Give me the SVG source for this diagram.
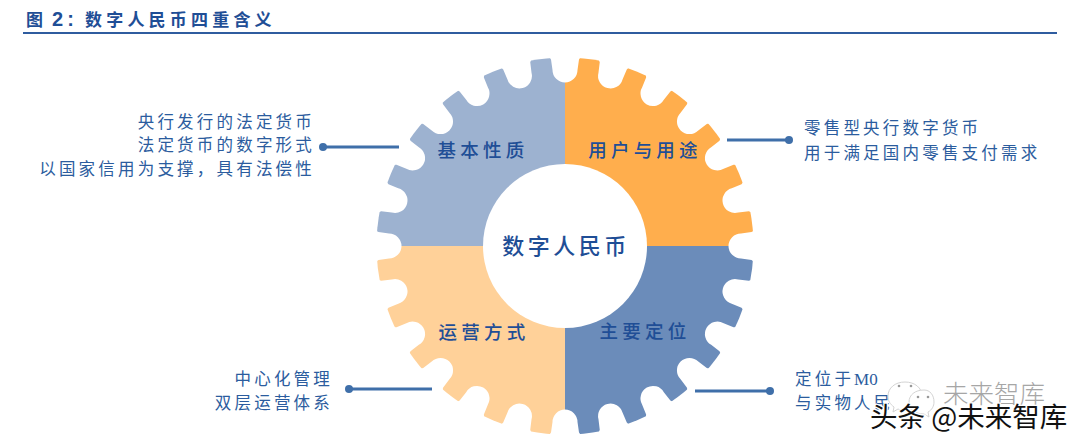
<svg xmlns="http://www.w3.org/2000/svg" width="1080" height="443" viewBox="0 0 1080 443">
<style>
text{font-family:"Noto Sans CJK SC","Noto Sans",sans-serif;fill:#2b5c9e}
.title{font-size:17px;font-weight:700;letter-spacing:4.2px;fill:#1f4e96}
.seg{font-size:18.500px;font-weight:500;letter-spacing:4.2px;fill:#1f4e96;text-anchor:middle}
.side{font-size:16.500px;letter-spacing:3.200px}
.end{text-anchor:end}
.lat{font-family:"Liberation Serif",serif;letter-spacing:0}
.conn{stroke:#3f6fa9;stroke-width:3;fill:none}
.dot{fill:#3f6fa9}
.wm{font-size:27.500px;fill:#111;stroke:#fff;stroke-width:2.500px;paint-order:stroke}
.wm2{font-size:25.500px;font-weight:300;fill:#a6a6a6}
.bub{fill:#fff;stroke:#d4d4d4;stroke-width:1}
</style>
<defs>
<path id="n" fill="#fff" d="M-18 -194H18V-189.400Q15 -189.200 14 -186.500L12.500 -176A12.500 12.500 0 1 1 -12.500 -176L-14 -186.500Q-15 -189.200 -18 -189.400Z"/>
</defs>
<rect width="1080" height="443" fill="#fff"/>
<text class="title" x="26" y="26">图<tspan x="52" style="font-family:'Liberation Sans',sans-serif" font-size="20">2:</tspan><tspan x="85">数字人民币四重含义</tspan></text>
<rect x="23" y="32" width="1034" height="2" fill="#2f5c9f"/>
<g id="q1"><path fill="#9db2d0" d="M565 246V57.500A188.500 188.500 0 0 0 376.500 246Z"/></g>
<g id="q2"><path fill="#ffae4d" d="M565 246V57.500A188.500 188.500 0 0 1 753.500 246Z"/></g>
<g id="q3"><path fill="#ffd199" d="M565 246V434.500A188.500 188.500 0 0 1 376.500 246Z"/></g>
<g id="q4"><path fill="#6b8cba" d="M565 246V434.500A188.500 188.500 0 0 0 753.500 246Z"/></g>
<g id="notches">
<use href="#n" transform="translate(565 246) rotate(0)"/>
<use href="#n" transform="translate(565 246) rotate(15)"/>
<use href="#n" transform="translate(565 246) rotate(30)"/>
<use href="#n" transform="translate(565 246) rotate(45)"/>
<use href="#n" transform="translate(565 246) rotate(60)"/>
<use href="#n" transform="translate(565 246) rotate(75)"/>
<use href="#n" transform="translate(565 246) rotate(90)"/>
<use href="#n" transform="translate(565 246) rotate(105)"/>
<use href="#n" transform="translate(565 246) rotate(120)"/>
<use href="#n" transform="translate(565 246) rotate(135)"/>
<use href="#n" transform="translate(565 246) rotate(150)"/>
<use href="#n" transform="translate(565 246) rotate(165)"/>
<use href="#n" transform="translate(565 246) rotate(180)"/>
<use href="#n" transform="translate(565 246) rotate(195)"/>
<use href="#n" transform="translate(565 246) rotate(210)"/>
<use href="#n" transform="translate(565 246) rotate(225)"/>
<use href="#n" transform="translate(565 246) rotate(240)"/>
<use href="#n" transform="translate(565 246) rotate(255)"/>
<use href="#n" transform="translate(565 246) rotate(270)"/>
<use href="#n" transform="translate(565 246) rotate(285)"/>
<use href="#n" transform="translate(565 246) rotate(300)"/>
<use href="#n" transform="translate(565 246) rotate(315)"/>
<use href="#n" transform="translate(565 246) rotate(330)"/>
<use href="#n" transform="translate(565 246) rotate(345)"/>
</g>
<g id="connectors">
<path class="conn" d="M323 147H399"/><circle class="dot" cx="323" cy="147" r="4"/>
<path class="conn" d="M727 140H789"/><circle class="dot" cx="789" cy="140" r="4"/>
<path class="conn" d="M349 389H432"/><circle class="dot" cx="349" cy="389" r="4"/>
<path class="conn" d="M695 391H770"/><circle class="dot" cx="770" cy="391" r="4"/>
</g>
<g id="centre"><circle cx="565" cy="246" r="82" fill="#fff"/><text x="566" y="254" style="font-size:22px;font-weight:500;letter-spacing:3.500px;fill:#1f4e96;text-anchor:middle">数字人民币</text></g>
<text class="seg" x="483" y="157">基本性质</text>
<text class="seg" x="645" y="157">用户与用途</text>
<text class="seg" x="484" y="339">运营方式</text>
<text class="seg" x="645" y="338">主要定位</text>
<g id="t1"><text class="side end" x="315" y="128">央行发行的法定货币</text><text class="side end" x="315" y="151">法定货币的数字形式</text><text class="side end" x="315" y="175">以国家信用为支撑，具有法偿性</text></g>
<g id="t2"><text class="side" x="804" y="134">零售型央行数字货币</text><text class="side" x="804" y="159">用于满足国内零售支付需求</text></g>
<g id="t3"><text class="side end" x="333" y="385">中心化管理</text><text class="side end" x="333" y="409">双层运营体系</text></g>
<g id="t4"><text class="side" x="795" y="385">定位于<tspan class="lat" font-size="17">M0</tspan></text><text class="side" x="795" y="409">与实物人民</text></g>
<g id="watermark">
<path class="bub" d="M905 382c-10 0-17 6-17 14 0 5 2 8 6 11l-1 5 5-3c2 1 4 1 7 1 10 0 17-6 17-14s-7-14-17-14Z"/>
<path class="bub" d="M924 390c-9 0-15 5-15 12s6 12 15 12l5 3-1-5c4-2 6-6 6-10 0-7-4-12-10-12Z"/>
<circle cx="899" cy="386" r="1.300" fill="#999"/><circle cx="911" cy="386" r="1.300" fill="#999"/>
<circle cx="918" cy="397" r="1.300" fill="#999"/><circle cx="928" cy="397" r="1.300" fill="#999"/>
<text class="wm2" x="943" y="403">未来智库</text>
<text class="wm" x="870" y="427">头条 @未来智库</text>
</g>
</svg>
